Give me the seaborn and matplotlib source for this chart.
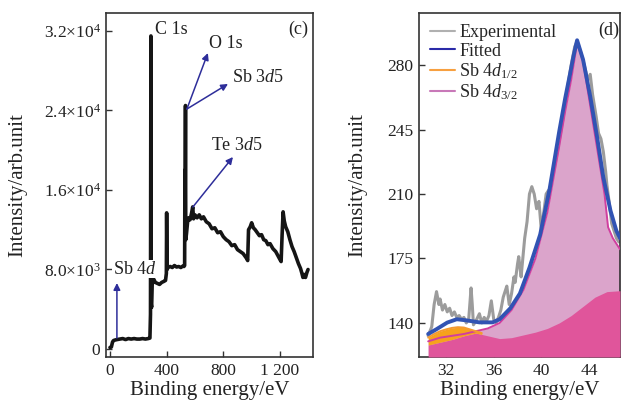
import matplotlib
matplotlib.use("Agg")
import matplotlib.pyplot as plt
import seaborn as sns
import pandas as pd
import numpy as np
from matplotlib.lines import Line2D

# ---------------- data: survey spectrum (panel c), (binding energy, intensity) ----------------
survey_points = [
    (0, 150), (10, 200), (18, 700), (25, 850), (35, 900), (50, 950), (70, 1000), (90, 1050),
    (110, 950), (130, 1050), (150, 1000), (170, 1050), (190, 1000), (210, 1000), (230, 1050),
    (250, 1000), (270, 1050), (282, 1100), (286, 3500), (289, 31500), (291, 4500), (294, 4200),
    (298, 6500), (303, 7000), (310, 7000), (320, 6700), (335, 6600), (350, 6500), (365, 6700),
    (380, 6800), (392, 6900), (398, 7600), (400, 13700), (403, 8000), (410, 8200), (425, 8300),
    (440, 8200), (455, 8400), (470, 8250), (485, 8300), (500, 8200), (515, 8350), (522, 8300),
    (527, 8400), (529, 18000), (531, 16500), (533, 24500), (535, 11000), (540, 11600),
    (548, 12800), (556, 13200), (565, 13000), (575, 13600), (584, 14300), (590, 13100),
    (600, 13500), (615, 13200), (630, 13500), (645, 13100), (660, 13300), (680, 12800),
    (700, 12600), (720, 12100), (740, 12200), (760, 11700), (780, 11800), (800, 11300),
    (820, 11000), (840, 10800), (860, 10400), (880, 10500), (900, 10000), (920, 9800),
    (940, 9600), (955, 9300), (965, 9100), (972, 8900), (978, 12000), (990, 12300),
    (1000, 12700), (1012, 12200), (1025, 12000), (1040, 11700), (1055, 11400), (1070, 11500),
    (1085, 11000), (1100, 10900), (1115, 10500), (1130, 10600), (1150, 10100), (1170, 9800),
    (1185, 9400), (1200, 9000), (1208, 8800), (1215, 11500), (1222, 13800), (1230, 12900),
    (1240, 12300), (1255, 11800), (1270, 11000), (1285, 10300), (1300, 9800), (1315, 9200),
    (1330, 8600), (1345, 8100), (1355, 7600), (1362, 7200), (1370, 7500), (1380, 7200),
    (1390, 7700), (1398, 8000)]
survey_ev = [p[0] for p in survey_points]
survey_val = [p[1] for p in survey_points]

survey_xticks = [0, 400, 800, 1200]
survey_xticklabels = ["0", "400", "800", "1 200"]
survey_yticks = [0, 8000, 16000, 24000, 32000]
survey_yticklabels = ["0", "8.0×10$^{3}$", "1.6×10$^{4}$", "2.4×10$^{4}$", "3.2×10$^{4}$"]

# ---------------- data: Sb 4d high resolution (panel d) ----------------
exp_ev = [30.5, 30.8, 31.0, 31.2, 31.4, 31.5, 31.7, 31.9, 32.1, 32.3, 32.5, 32.7, 32.9, 33.1,
          33.3, 33.5, 33.7, 33.9, 34.1, 34.2, 34.3, 34.5, 34.8, 35.0, 35.2, 35.4, 35.6, 35.8,
          36.0, 36.2, 36.4, 36.6, 36.8, 37.0, 37.1, 37.3, 37.5, 37.7, 37.8, 38.0, 38.1, 38.3,
          38.4, 38.6, 38.8, 39.0, 39.2, 39.4, 39.6, 39.8, 40.0, 40.2, 40.4, 40.6, 40.8, 41.0,
          41.3, 41.6, 41.9, 42.2, 42.5, 42.8, 43.0, 43.3, 43.6, 43.9, 44.1, 44.3, 44.6, 44.8,
          45.0, 45.2, 45.4, 45.5, 45.7, 45.9, 46.1, 46.3, 46.5]
exp_val = [133, 138, 150, 157, 150, 153, 147, 150, 146, 148, 144, 146, 143, 144, 142, 143, 140,
           142, 159, 150, 139, 141, 145, 140, 143, 141, 144, 152, 142, 140, 143, 147, 154, 158,
           160, 150, 156, 165, 162, 172, 176, 165, 172, 186, 195, 210, 214, 210, 202, 206, 190,
           200, 210, 212, 208, 207, 222, 236, 252, 268, 280, 290, 293, 287, 280, 272, 275, 264,
           252, 243, 240, 233, 222, 215, 205, 194, 190, 186, 184]

fit_ev = [30.5, 31.2, 32.1, 32.9, 33.7, 34.8, 35.9, 36.5, 37.4, 38.2, 39.0, 39.9, 40.7, 41.5,
          42.0, 42.4, 42.7, 43.0, 43.5, 44.1, 44.7, 45.2, 45.8, 46.3, 46.6]
fit_val = [134, 136.6, 140.2, 142, 141.4, 140.3, 140.3, 142, 148, 156, 170, 188, 213, 244, 262,
           275, 285, 293.5, 283, 263, 240, 219, 201, 190, 186]

d32_ev = [30.5, 31.5, 32.5, 33.5, 34.5, 35.5, 36.5, 37.5, 38.5, 39.5, 40.5, 41.5, 42.0, 42.5,
          43.0, 43.5, 44.0, 44.5, 45.0, 45.3, 45.6, 46.0, 46.6]
d32_val = [130, 132, 133, 134, 135.5, 137, 140, 147, 158, 175, 200, 236, 255, 272, 292, 282,
           262, 242, 222, 210, 192, 186, 180]

d12_ev = [30.5, 31.0, 31.5, 32.0, 32.5, 33.0, 33.5, 34.0, 34.5, 35.0]
d12_val = [132, 134, 135.5, 136.5, 137.3, 137.7, 137.5, 136.5, 135.5, 134.5]

bg_ev = [30.5, 31.5, 32.5, 33.5, 34.5, 35.5, 36.5, 37.5, 38.5, 39.5, 40.5, 41.5, 42.5, 43.5,
         44.5, 45.5, 46.6]
bg_val = [128, 129.5, 131, 133, 134.5, 133, 131.5, 132, 133.5, 135, 137, 140, 144, 149, 154,
          157, 157.5]

hr_xticks = [32, 36, 40, 44]
hr_yticks = [140, 175, 210, 245, 280]

# ---------------- style ----------------
sns.set_style("ticks")
plt.rcParams["font.family"] = ["Liberation Serif", "DejaVu Serif"]
plt.rcParams["mathtext.fontset"] = "custom"
plt.rcParams["mathtext.rm"] = "Liberation Serif"
plt.rcParams["mathtext.it"] = "Liberation Serif:italic"
plt.rcParams["xtick.direction"] = "in"
plt.rcParams["ytick.direction"] = "in"

TXT = "#222222"
ARROW = "#2e2e9a"
FS_TICK = 12.5
FS_ANN = 13
FS_LEG = 13
FS_LAB = 15

fig = plt.figure(figsize=(6.21, 4.05), dpi=100)
ax1 = fig.add_axes([106 / 621, 48 / 405, 207 / 621, 344 / 405])
ax2 = fig.add_axes([419 / 621, 48 / 405, 201 / 621, 344 / 405])

# ---------------- panel (c) ----------------
df_s = pd.DataFrame({"ev": survey_ev, "val": survey_val})
sns.lineplot(data=df_s, x="ev", y="val", ax=ax1, color="#151515", lw=2.6, sort=False,
             estimator=None)
ax1.set_xlim(-28, 1433)
ax1.set_ylim(-805, 33810)
ax1.set_xticks(survey_xticks)
ax1.set_xticklabels(survey_xticklabels)
ax1.set_yticks(survey_yticks)
ax1.set_yticklabels(survey_yticklabels)

ax1.text(318, 32200, "C 1s", fontsize=FS_ANN, color=TXT, va="center", ha="left")
ax1.text(1400, 32200, "(c)", fontsize=FS_ANN, color=TXT, va="center", ha="right")
ax1.text(697, 30790, "O 1s", fontsize=FS_ANN, color=TXT, va="center", ha="left")
ax1.text(860, 27370, "Sb 3$d$5", fontsize=FS_ANN, color=TXT, va="center", ha="left")
ax1.text(716, 20430, "Te 3$d$5", fontsize=FS_ANN, color=TXT, va="center", ha="left")
ax1.text(18, 8050, "Sb 4$d$", fontsize=FS_ANN, color=TXT, va="center", ha="left",
         bbox=dict(facecolor="white", edgecolor="none", pad=0.5), zorder=5)

arrow_kw = dict(arrowstyle="-|>", color=ARROW, lw=1.1, mutation_scale=10,
                shrinkA=0, shrinkB=0)
ax1.annotate("", xy=(691, 29780), xytext=(543, 24150), arrowprops=arrow_kw)
ax1.annotate("", xy=(833, 26670), xytext=(543, 24150), arrowprops=arrow_kw)
ax1.annotate("", xy=(868, 19320), xytext=(585, 14290), arrowprops=arrow_kw)
ax1.annotate("", xy=(49, 6640), xytext=(49, 1100), arrowprops=arrow_kw)

# ---------------- panel (d) ----------------
df_exp = pd.DataFrame({"ev": exp_ev, "val": exp_val})
df_fit = pd.DataFrame({"ev": fit_ev, "val": fit_val})
df_32 = pd.DataFrame({"ev": d32_ev, "val": d32_val})
df_12 = pd.DataFrame({"ev": d12_ev, "val": d12_val})

ybot = 121.5
sns.lineplot(data=df_exp, x="ev", y="val", ax=ax2, color="#9c9c9c", lw=2.2, sort=False,
             estimator=None, zorder=1)
ax2.fill_between(d32_ev, ybot, d32_val, color="#dba4cb", lw=0, zorder=2)
ax2.fill_between(bg_ev, ybot, bg_val, color="#e0559b", lw=0, zorder=3)
bg_under_12 = np.interp(d12_ev, bg_ev, bg_val)
ax2.fill_between(d12_ev, bg_under_12, d12_val, color="#f7a21c", lw=0, zorder=3.5)
sns.lineplot(data=df_32, x="ev", y="val", ax=ax2, color="#d03f9f", lw=1.4, sort=False,
             estimator=None, zorder=4)
sns.lineplot(data=df_12, x="ev", y="val", ax=ax2, color="#f59a30", lw=1.4, sort=False,
             estimator=None, zorder=4)
sns.lineplot(data=df_fit, x="ev", y="val", ax=ax2, color="#3153b3", lw=2.8, sort=False,
             estimator=None, zorder=5)

ax2.set_xlim(29.73, 46.6)
ax2.set_ylim(ybot, 308.3)
ax2.set_xticks(hr_xticks)
ax2.set_yticks(hr_yticks)
ax2.text(46.5, 299, "(d)", fontsize=FS_ANN, color=TXT, va="center", ha="right")

handles = [Line2D([], [], color="#b0b0b0", lw=1.5),
           Line2D([], [], color="#2a2aa8", lw=1.5),
           Line2D([], [], color="#f7a040", lw=1.5),
           Line2D([], [], color="#c878b8", lw=1.5)]
labels = ["Experimental", "Fitted", "Sb 4$d_{1/2}$", "Sb 4$d_{3/2}$"]
ax2.legend(handles, labels, loc="upper left", bbox_to_anchor=(0.0, 1.0), frameon=False,
           fontsize=FS_LEG, handlelength=1.4, handletextpad=0.2, labelspacing=0.08,
           borderpad=0.42, borderaxespad=0.2)

for ax in (ax1, ax2):
    ax.set_xlabel("Binding energy/eV", fontsize=FS_LAB, color=TXT)
    ax.set_ylabel("Intensity/arb.unit", fontsize=FS_LAB, color=TXT)
    ax.tick_params(axis="both", labelsize=FS_TICK, labelcolor=TXT, length=4, width=1,
                   color="#333333", pad=4)
    for sp in ax.spines.values():
        sp.set_color("#333333")
        sp.set_linewidth(1.2)
    ax.xaxis.set_label_coords(0.5, -0.07)

ax1.yaxis.set_label_coords(-0.38, 0.5)
ax2.yaxis.set_label_coords(-0.255, 0.5)

fig.savefig("out.png", dpi=100)
